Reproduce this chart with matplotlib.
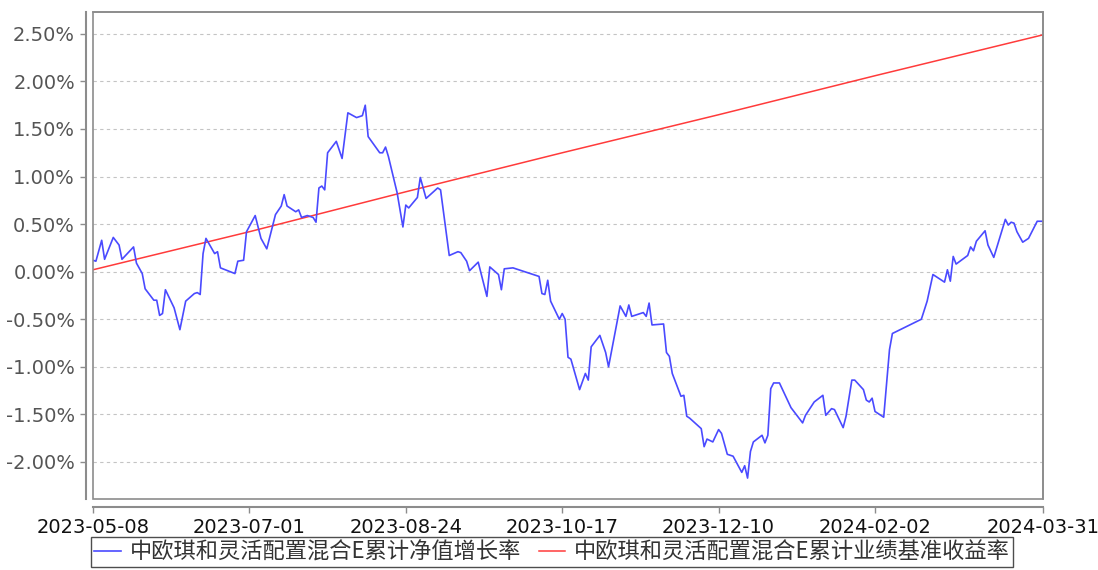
import matplotlib
matplotlib.use("Agg")
import matplotlib.pyplot as plt
from matplotlib.patches import Rectangle
from matplotlib.ticker import FuncFormatter
import pandas as pd

plt.rcParams['font.family'] = ['DejaVu Sans', 'Noto Sans CJK SC']

start_date = "2023-05-08"
end_date = "2024-03-31"

# days since start date
nav_days = [0, 1, 3, 4, 7, 9, 10, 14, 15, 17, 18, 21, 22, 23, 24, 25, 28, 30, 32, 35,
            36, 37, 38, 39, 42, 43, 44, 49, 50, 52, 53, 56, 58, 60, 63, 65, 66, 67, 70, 71,
            72, 74, 76, 77, 78, 79, 80, 81, 84, 86, 88, 91, 93, 94, 95, 99, 100, 101, 102, 105,
            107, 108, 109, 112, 113, 115, 119, 120, 123, 126, 127, 129, 130, 133, 136, 137, 140, 141, 142, 145,
            154, 155, 156, 157, 158, 161, 162, 163, 164, 165, 168, 170, 171, 172, 175, 177, 178, 182, 184, 185,
            186, 189, 190, 191, 192, 193, 197, 198, 199, 200, 203, 204, 205, 206, 210, 211, 212, 214, 216, 217,
            219, 221, 224, 225, 226, 227, 228, 231, 232, 233, 234, 235, 237, 241, 245, 246, 249, 252, 253, 255,
            256, 259, 260, 262, 263, 266, 267, 268, 269, 270, 273, 275, 276, 286, 288, 290, 294, 295, 296, 297,
            298, 302, 303, 304, 305, 308, 309, 311, 315, 316, 317, 318, 319, 321, 323, 324, 326, 328]

nav_values = [0.12, 0.11, 0.33, 0.13, 0.36, 0.28, 0.13, 0.26, 0.09, -0.02, -0.18, -0.30, -0.30, -0.46, -0.44, -0.19, -0.38, -0.61, -0.31, -0.23,
              -0.22, -0.24, 0.19, 0.35, 0.19, 0.21, 0.04, -0.02, 0.11, 0.12, 0.42, 0.59, 0.35, 0.24, 0.60, 0.69, 0.81, 0.69, 0.63, 0.65,
              0.57, 0.59, 0.57, 0.52, 0.88, 0.90, 0.86, 1.25, 1.37, 1.19, 1.67, 1.62, 1.64, 1.75, 1.42, 1.25, 1.25, 1.31, 1.21, 0.83,
              0.47, 0.70, 0.67, 0.78, 0.99, 0.77, 0.88, 0.86, 0.17, 0.21, 0.20, 0.11, 0.01, 0.10, -0.26, 0.05, -0.03, -0.19, 0.03, 0.04,
              -0.05, -0.23, -0.24, -0.09, -0.31, -0.50, -0.44, -0.50, -0.90, -0.92, -1.24, -1.07, -1.14, -0.79, -0.67, -0.85, -1.00, -0.36, -0.47, -0.35,
              -0.47, -0.44, -0.43, -0.47, -0.33, -0.56, -0.55, -0.85, -0.89, -1.07, -1.31, -1.30, -1.52, -1.54, -1.65, -1.84, -1.76, -1.79, -1.66, -1.70,
              -1.92, -1.94, -2.11, -2.04, -2.17, -1.89, -1.79, -1.72, -1.80, -1.72, -1.23, -1.17, -1.17, -1.43, -1.59, -1.51, -1.37, -1.30, -1.51, -1.44,
              -1.45, -1.64, -1.52, -1.14, -1.14, -1.24, -1.35, -1.37, -1.33, -1.47, -1.53, -0.82, -0.65, -0.50, -0.31, -0.03, -0.11, 0.02, -0.10, 0.16,
              0.08, 0.17, 0.26, 0.22, 0.32, 0.43, 0.28, 0.15, 0.55, 0.49, 0.52, 0.51, 0.42, 0.31, 0.35, 0.41, 0.53, 0.53]

bench_days = [0, 54, 108, 162, 216, 270, 328]
bench_values = [0.02, 0.42, 0.84, 1.25, 1.65, 2.06, 2.49]

x_tick_labels = ["2023-05-08", "2023-07-01", "2023-08-24", "2023-10-17",
                 "2023-12-10", "2024-02-02", "2024-03-31"]
y_ticks = [2.5, 2.0, 1.5, 1.0, 0.5, 0.0, -0.5, -1.0, -1.5, -2.0]

label_nav = "中欧琪和灵活配置混合E累计净值增长率"
label_bench = "中欧琪和灵活配置混合E累计业绩基准收益率"

t0 = pd.Timestamp(start_date)
nav_x = [t0 + pd.Timedelta(days=d) for d in nav_days]
bench_x = [t0 + pd.Timedelta(days=d) for d in bench_days]

W, H = 1098, 570
fig = plt.figure(figsize=(W / 100, H / 100), dpi=100)
L, R, T, B = 93, 1043, 12, 499
ax = fig.add_axes([L / W, 1 - B / H, (R - L) / W, (B - T) / H])

gray = "#8c8c8c"
ax.plot(nav_x, nav_values, color="#4a4aff", lw=1.2, label=label_nav, zorder=3)
ax.plot(bench_x, bench_values, color="#ff3b3b", lw=1.1, label=label_bench, zorder=2)

ax.set_xlim(t0, pd.Timestamp(end_date))
ax.set_ylim(-2.39, 2.73)

ax.set_yticks(y_ticks)
ax.yaxis.set_major_formatter(FuncFormatter(lambda v, p: f"{v:.2f}%"))
ax.set_xticks([pd.Timestamp(s) for s in x_tick_labels])
ax.set_xticklabels(x_tick_labels)

ax.grid(axis="y", color="#c4c4c4", linestyle=(0, (3, 3)), linewidth=0.8)
ax.grid(axis="x", visible=False)

for side in ["top", "right"]:
    ax.spines[side].set_color(gray)
    ax.spines[side].set_linewidth(1.2)
ax.spines["left"].set_position(("outward", 5))
ax.spines["bottom"].set_position(("outward", 6))
for side in ["left", "bottom"]:
    ax.spines[side].set_color(gray)
    ax.spines[side].set_linewidth(1.5)

ax.add_patch(Rectangle((0, 0), 1, 1, transform=ax.transAxes, fill=False,
                       edgecolor=gray, linewidth=1.2, clip_on=False, zorder=4))

ax.tick_params(axis="y", colors=gray, labelcolor="#555555", labelsize=14,
               length=4, width=1, pad=4)
ax.tick_params(axis="x", colors=gray, labelcolor="#111111", labelsize=14,
               length=4, width=1, pad=4)

leg = fig.legend(loc="upper center", bbox_to_anchor=(552 / W, 1 - 537 / H),
                 ncol=2, frameon=True, fancybox=False, edgecolor="#222222",
                 prop={"family": ["Noto Sans CJK SC", "DejaVu Sans"], "size": 16},
                 handlelength=1.2, handletextpad=0.4, columnspacing=0.8,
                 borderpad=0.15, borderaxespad=0)
leg.get_frame().set_linewidth(1.0)
for t in leg.get_texts():
    t.set_color("#333333")

fig.savefig("out.png", dpi=100)
